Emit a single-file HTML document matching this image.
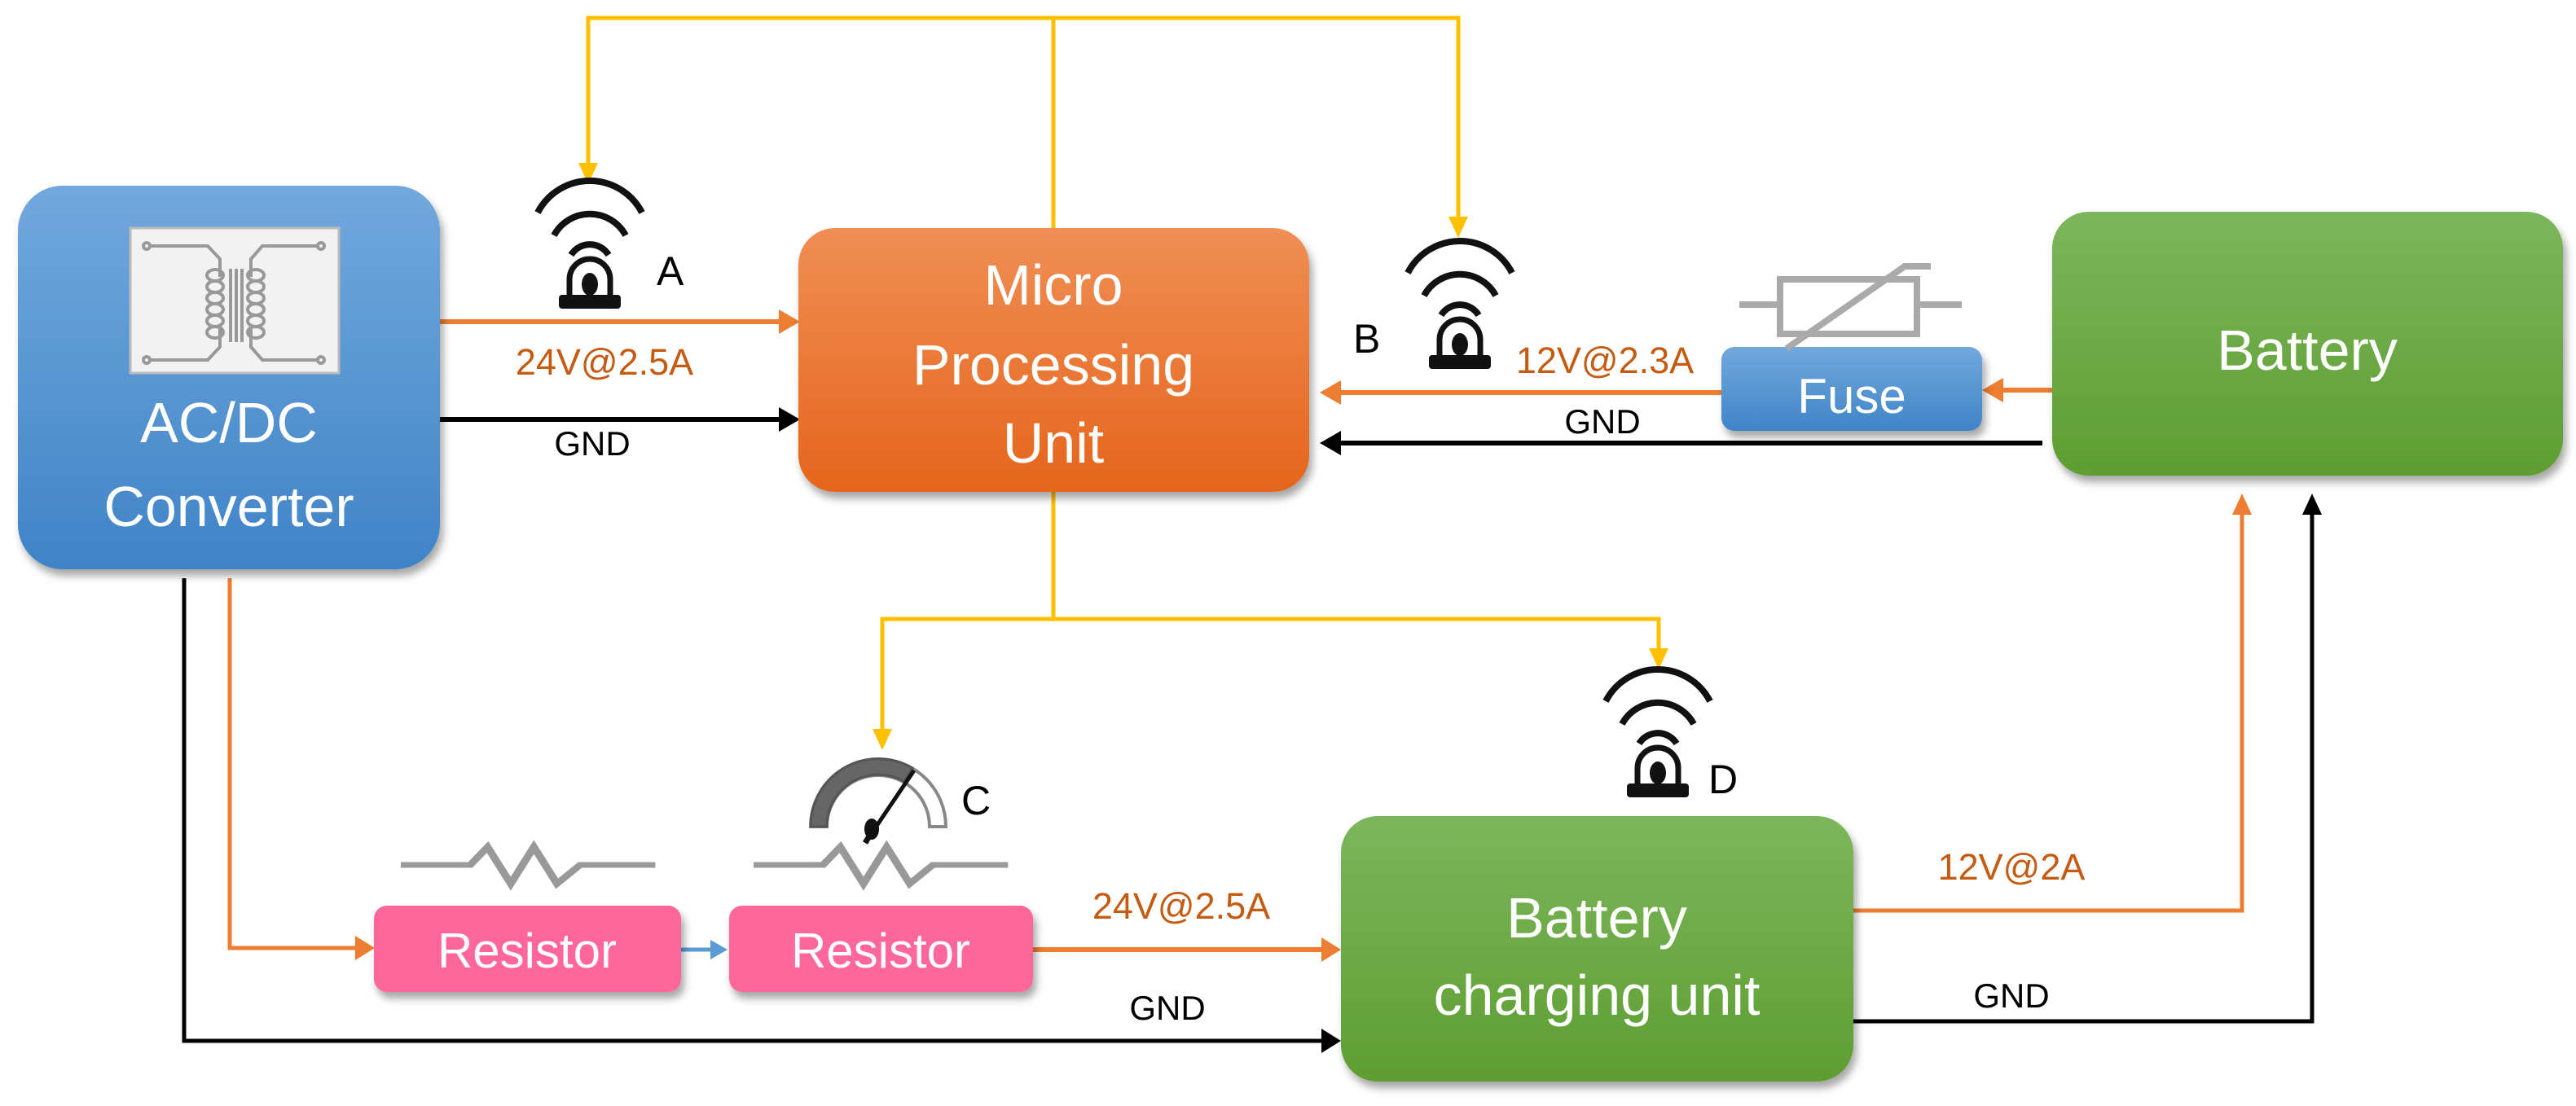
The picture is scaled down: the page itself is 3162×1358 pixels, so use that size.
<!DOCTYPE html>
<html><head><meta charset="utf-8"><style>
html,body{margin:0;padding:0;background:#fff;}
svg{display:block;}
text{font-family:"Liberation Sans",sans-serif;}
</style></head><body>
<svg width="3162" height="1358" viewBox="0 0 3162 1358" xmlns="http://www.w3.org/2000/svg">
<defs>
<linearGradient id="gb" x1="0" y1="0" x2="0" y2="1"><stop offset="0" stop-color="#72a8dd"/><stop offset="1" stop-color="#3f84c8"/></linearGradient>
<linearGradient id="go" x1="0" y1="0" x2="0" y2="1"><stop offset="0" stop-color="#f08e55"/><stop offset="1" stop-color="#e5651b"/></linearGradient>
<linearGradient id="gg" x1="0" y1="0" x2="0" y2="1"><stop offset="0" stop-color="#7cb65c"/><stop offset="1" stop-color="#5d9e31"/></linearGradient>
<filter id="sh" x="-10%" y="-10%" width="125%" height="130%"><feDropShadow dx="4" dy="8" stdDeviation="5" flood-color="#000" flood-opacity="0.35"/></filter>
<g id="alarm">
<path d="M-64,36 A72,72 0 0 1 64,36" stroke="#111" stroke-width="8" fill="none"/>
<path d="M-44,64 A50,50 0 0 1 44,64" stroke="#111" stroke-width="8" fill="none"/>
<path d="M-23,88 A27,27 0 0 1 23,88" stroke="#111" stroke-width="8" fill="none"/>
<path d="M-25,140 L-25,118 A25,25 0 0 1 25,118 L25,140" stroke="#111" stroke-width="7" fill="none"/>
<ellipse cx="0" cy="124" rx="10" ry="14" fill="#111"/>
<rect x="-38" y="137" width="76" height="17" rx="4" fill="#111"/>
</g>
<g id="zig">
<polyline points="0,22 60,22 75,0 95,45 115,0 135,45 155,22 220,22" transform="scale(1.42,1)" stroke="#999" stroke-width="7" fill="none"/>
</g>
</defs>

<g stroke="#ffc000" stroke-width="5" fill="none">
<polyline points="722,215 722,22 1790,22 1790,280"/>
<line x1="1293" y1="22" x2="1293" y2="280"/>
<line x1="1293" y1="604" x2="1293" y2="760"/>
<polyline points="1083,905 1083,760 2036,760 2036,808"/>
</g>
<g fill="#ffc000">
<path d="M710,200 L734,200 L722,226 z"/>
<path d="M1778,266 L1802,266 L1790,292 z"/>
<path d="M1071,895 L1095,895 L1083,921 z"/>
<path d="M2024,796 L2048,796 L2036,822 z"/>
</g>

<g fill="none" stroke-width="6">
<line x1="540" y1="395" x2="960" y2="395" stroke="#ed7d31"/>
<line x1="540" y1="515" x2="960" y2="515" stroke="#000"/>
<line x1="2113" y1="482" x2="1640" y2="482" stroke="#ed7d31"/>
<line x1="2519" y1="479" x2="2455" y2="479" stroke="#ed7d31"/>
<line x1="2507" y1="544" x2="1640" y2="544" stroke="#000"/>
<polyline points="226,710 226,1278 1626,1278" stroke="#000" stroke-width="5"/>
<polyline points="282,710 282,1164 440,1164" stroke="#ed7d31" stroke-width="5"/>
<line x1="836" y1="1166" x2="880" y2="1166" stroke="#5b9bd5" stroke-width="5"/>
<line x1="1268" y1="1166" x2="1626" y2="1166" stroke="#ed7d31"/>
<polyline points="2275,1118 2752,1118 2752,630" stroke="#ed7d31" stroke-width="5"/>
<polyline points="2275,1254 2838,1254 2838,630" stroke="#000" stroke-width="5"/>
</g>
<g>
<path d="M956,380 L982,395 L956,410 z" fill="#ed7d31"/>
<path d="M956,500 L982,515 L956,530 z" fill="#000"/>
<path d="M1646,467 L1620,482 L1646,497 z" fill="#ed7d31"/>
<path d="M2459,464 L2433,479 L2459,494 z" fill="#ed7d31"/>
<path d="M1646,529 L1620,544 L1646,559 z" fill="#000"/>
<path d="M436,1149 L460,1164 L436,1179 z" fill="#ed7d31"/>
<path d="M872,1154 L893,1166 L872,1178 z" fill="#5b9bd5"/>
<path d="M1622,1151 L1646,1166 L1622,1181 z" fill="#ed7d31"/>
<path d="M1622,1263 L1646,1278 L1622,1293 z" fill="#000"/>
<path d="M2740,632 L2752,606 L2764,632 z" fill="#ed7d31"/>
<path d="M2826,632 L2838,606 L2850,632 z" fill="#000"/>
</g>

<rect x="22" y="228" width="518" height="471" rx="55" fill="url(#gb)" filter="url(#sh)"/>
<rect x="980" y="280" width="627" height="324" rx="45" fill="url(#go)" filter="url(#sh)"/>
<rect x="2519" y="260" width="627" height="324" rx="45" fill="url(#gg)" filter="url(#sh)"/>
<rect x="1646" y="1002" width="629" height="326" rx="45" fill="url(#gg)" filter="url(#sh)"/>
<rect x="2113" y="426" width="320" height="103" rx="16" fill="url(#gb)" filter="url(#sh)"/>
<rect x="459" y="1112" width="377" height="106" rx="16" fill="#ff6699" filter="url(#sh)"/>
<rect x="895" y="1112" width="373" height="106" rx="16" fill="#ff6699" filter="url(#sh)"/>

<rect x="160" y="280" width="256" height="178" fill="#f2f2f2" stroke="#bbb" stroke-width="3"/>
<g stroke="#999" stroke-width="4" fill="none">
<polyline points="182,302 255,302 270,318 270,340"/>
<polyline points="182,442 255,442 270,426 270,400"/>
<polyline points="392,302 322,302 308,318 308,340"/>
<polyline points="392,442 322,442 308,426 308,400"/>
<circle cx="180" cy="302" r="4"/><circle cx="180" cy="442" r="4"/>
<circle cx="394" cy="302" r="4"/><circle cx="394" cy="442" r="4"/>
<line x1="283" y1="330" x2="283" y2="420"/><line x1="290" y1="330" x2="290" y2="420"/><line x1="297" y1="330" x2="297" y2="420"/>
<ellipse cx="264" cy="338" rx="10" ry="7"/><ellipse cx="264" cy="352" rx="10" ry="7"/><ellipse cx="264" cy="366" rx="10" ry="7"/><ellipse cx="264" cy="380" rx="10" ry="7"/><ellipse cx="264" cy="394" rx="10" ry="7"/><ellipse cx="264" cy="408" rx="10" ry="7"/>
<ellipse cx="314" cy="338" rx="10" ry="7"/><ellipse cx="314" cy="352" rx="10" ry="7"/><ellipse cx="314" cy="366" rx="10" ry="7"/><ellipse cx="314" cy="380" rx="10" ry="7"/><ellipse cx="314" cy="394" rx="10" ry="7"/><ellipse cx="314" cy="408" rx="10" ry="7"/>
</g>

<g stroke="#aaa" stroke-width="8" fill="none">
<line x1="2135" y1="374" x2="2185" y2="374"/>
<line x1="2353" y1="374" x2="2408" y2="374"/>
<rect x="2185" y="343" width="168" height="67"/>
<polyline points="2193,428 2338,327 2370,327"/>
</g>

<use href="#zig" x="492" y="1040"/>
<use href="#zig" x="925" y="1040"/>

<g>
<path d="M995,1015 A83,83 0 0 1 1161,1015 L1141,1015 A63,63 0 0 0 1015,1015 z" fill="#fff" stroke="#888" stroke-width="4"/>
<path d="M995,1015 A83,83 0 0 1 1120,943 L1110,960 A63,63 0 0 0 1015,1015 z" fill="#666" stroke="#555" stroke-width="3"/>
<line x1="1072" y1="1020" x2="1122" y2="946" stroke="#111" stroke-width="5"/>
<ellipse cx="1070" cy="1018" rx="9" ry="13" fill="#111"/>
<line x1="1068" y1="1025" x2="1062" y2="1035" stroke="#111" stroke-width="7"/>
</g>

<use href="#alarm" transform="translate(724,225)"/>
<use href="#alarm" transform="translate(1792,299)"/>
<use href="#alarm" transform="translate(2035,825)"/>

<g fill="#000">
<text x="806" y="350" font-size="50">A</text>
<text x="1661" y="433" font-size="50">B</text>
<text x="1180" y="1000" font-size="50">C</text>
<text x="2097" y="974" font-size="50">D</text>
</g>
<g font-size="45" fill="#c55a11" text-anchor="middle">
<text x="742" y="460">24V@2.5A</text>
<text x="1970" y="458">12V@2.3A</text>
<text x="1450" y="1128">24V@2.5A</text>
<text x="2469" y="1080">12V@2A</text>
</g>
<g font-size="42" fill="#000" text-anchor="middle">
<text x="727" y="559">GND</text>
<text x="1967" y="532">GND</text>
<text x="1433" y="1252">GND</text>
<text x="2469" y="1237">GND</text>
</g>
<g fill="#fff" text-anchor="middle" font-size="70">
<text x="281" y="543">AC/DC</text>
<text x="281" y="646">Converter</text>
<text x="1293" y="374">Micro</text>
<text x="1293" y="472">Processing</text>
<text x="1293" y="568">Unit</text>
<text x="2832" y="454">Battery</text>
<text x="1960" y="1151">Battery</text>
<text x="1960" y="1246">charging unit</text>
<text x="2273" y="507" font-size="60">Fuse</text>
<text x="647" y="1188" font-size="60">Resistor</text>
<text x="1081" y="1188" font-size="60">Resistor</text>
</g>
</svg>
</body></html>
